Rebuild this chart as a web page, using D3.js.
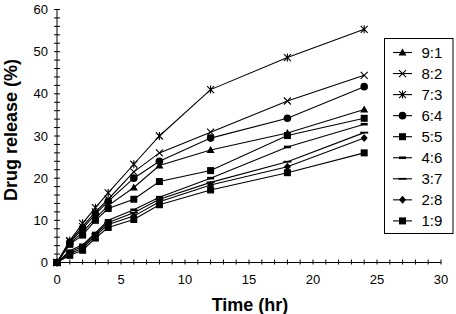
<!DOCTYPE html>
<html>
<head>
    <meta charset="utf-8" />
    <title>Drug release</title>
    <script src="https://cdn.jsdelivr.net/npm/d3@7"></script>
    <style>
        body { margin: 0; background: #fff; }
        svg { font-family: "Liberation Sans", Arial, sans-serif; }
    </style>
</head>
<body>
    <div id="chart_container"></div>

    <script type="text/javascript">
        // data
        var times = [0, 1, 2, 3, 4, 6, 8, 12, 18, 24];
        var r91 = [0, 4.5, 7.2, 10.5, 13.5, 17.8, 23.0, 26.7, 30.7, 36.3];
        var r82 = [0, 5.0, 8.5, 12.0, 15.0, 21.5, 26.0, 30.9, 38.3, 44.4];
        var r73 = [0, 5.2, 9.3, 13.0, 16.5, 23.3, 30.0, 41.0, 48.6, 55.3];
        var r64 = [0, 4.8, 8.0, 11.5, 14.5, 20.0, 24.0, 29.5, 34.2, 41.7];
        var r55 = [0, 4.3, 6.5, 10.0, 12.8, 15.0, 19.2, 21.8, 30.1, 34.2];
        var r46 = [0, 2.8, 4.2, 7.0, 10.0, 12.5, 15.5, 20.0, 27.4, 32.8];
        var r37 = [0, 2.5, 3.8, 6.7, 9.5, 11.8, 15.0, 19.0, 23.9, 30.8];
        var r28 = [0, 2.1, 3.4, 6.3, 9.0, 11.0, 14.4, 18.4, 22.7, 29.5];
        var r19 = [0, 1.7, 2.9, 5.8, 8.3, 10.2, 13.7, 17.2, 21.3, 26.0];
        var seriesNames = ["9:1", "8:2", "7:3", "6:4", "5:5", "4:6", "3:7", "2:8", "1:9"];
        var seriesValues = [r91, r82, r73, r64, r55, r46, r37, r28, r19];
        var markers = ["triangle", "cross", "star", "circle", "square", "dash", "line", "diamond", "square"];

        var xTicks = [0, 5, 10, 15, 20, 25, 30];
        var yTicks = [0, 10, 20, 30, 40, 50, 60];

        var svg = d3.select("#chart_container").append("svg")
            .attr("width", 456)
            .attr("height", 314);

        var x = d3.scaleLinear().domain([0, 30]).range([57, 441]);
        var y = d3.scaleLinear().domain([0, 60]).range([262.5, 9.5]);

        // axes
        var xAxis = svg.append("g").attr("transform", "translate(0,262.5)");
        xAxis.append("line").attr("x1", x(0)).attr("x2", x(30)).attr("stroke", "#000");
        xAxis.selectAll(".minor").data(d3.range(0, 31, 1)).enter().append("line")
            .attr("x1", function (d) { return x(d); })
            .attr("x2", function (d) { return x(d); })
            .attr("y1", -3).attr("y2", 2)
            .attr("stroke", "#000");
        xAxis.selectAll("text").data(xTicks).enter().append("text")
            .attr("x", function (d) { return x(d); })
            .attr("y", 21)
            .attr("text-anchor", "middle")
            .style("font-size", "13px")
            .text(function (d) { return d; });

        var yAxis = svg.append("g").attr("transform", "translate(57,0)");
        yAxis.append("line").attr("y1", y(0)).attr("y2", y(60)).attr("stroke", "#000");
        yAxis.selectAll(".minor").data(d3.range(0, 61, 2)).enter().append("line")
            .attr("y1", function (d) { return y(d); })
            .attr("y2", function (d) { return y(d); })
            .attr("x1", -3).attr("x2", 3)
            .attr("stroke", "#000");
        yAxis.selectAll("text").data(yTicks).enter().append("text")
            .attr("x", -9)
            .attr("y", function (d) { return y(d) + 4.5; })
            .attr("text-anchor", "end")
            .style("font-size", "13px")
            .text(function (d) { return d; });

        // axis titles
        svg.append("text")
            .attr("x", 250).attr("y", 311)
            .attr("text-anchor", "middle")
            .style("font-size", "18px").style("font-weight", "bold")
            .text("Time (hr)");
        svg.append("text")
            .attr("transform", "translate(16.5,130) rotate(-90)")
            .attr("text-anchor", "middle")
            .style("font-size", "18px").style("font-weight", "bold")
            .text("Drug release (%)");

        // marker drawing
        function drawMarker(g, type, cx, cy) {
            if (type === "triangle") {
                g.append("path").attr("d", "M" + cx + "," + (cy - 4) + "L" + (cx + 4) + "," + (cy + 3) + "L" + (cx - 4) + "," + (cy + 3) + "Z").attr("fill", "#000");
            } else if (type === "cross") {
                g.append("path").attr("d", "M" + (cx - 3.5) + "," + (cy - 3.5) + "L" + (cx + 3.5) + "," + (cy + 3.5) + "M" + (cx - 3.5) + "," + (cy + 3.5) + "L" + (cx + 3.5) + "," + (cy - 3.5)).attr("stroke", "#000").attr("stroke-width", 1.1);
            } else if (type === "star") {
                g.append("path").attr("d", "M" + (cx - 3.5) + "," + (cy - 3.5) + "L" + (cx + 3.5) + "," + (cy + 3.5) + "M" + (cx - 3.5) + "," + (cy + 3.5) + "L" + (cx + 3.5) + "," + (cy - 3.5) + "M" + cx + "," + (cy - 4) + "L" + cx + "," + (cy + 4)).attr("stroke", "#000").attr("stroke-width", 1.1);
            } else if (type === "circle") {
                g.append("circle").attr("cx", cx).attr("cy", cy).attr("r", 3.8).attr("fill", "#000");
            } else if (type === "square") {
                g.append("rect").attr("x", cx - 3.5).attr("y", cy - 3.5).attr("width", 7).attr("height", 7).attr("fill", "#000");
            } else if (type === "dash") {
                g.append("rect").attr("x", cx - 3.5).attr("y", cy - 1.3).attr("width", 7).attr("height", 2.6).attr("fill", "#000");
            } else if (type === "line") {
                g.append("rect").attr("x", cx - 4).attr("y", cy - 0.9).attr("width", 8).attr("height", 1.8).attr("fill", "#000");
            } else if (type === "diamond") {
                g.append("path").attr("d", "M" + cx + "," + (cy - 4) + "L" + (cx + 3.5) + "," + cy + "L" + cx + "," + (cy + 4) + "L" + (cx - 3.5) + "," + cy + "Z").attr("fill", "#000");
            }
        }

        var line = d3.line()
            .x(function (d, i) { return x(times[i]); })
            .y(function (d) { return y(d); });

        // series
        seriesValues.forEach(function (vals, k) {
            var g = svg.append("g");
            g.append("path").datum(vals)
                .attr("d", line)
                .attr("fill", "none")
                .attr("stroke", "#000")
                .attr("stroke-width", 1.1);
            vals.forEach(function (v, i) {
                drawMarker(g, markers[k], x(times[i]), y(v));
            });
        });

        // legend
        var legend = svg.append("g");
        legend.append("rect")
            .attr("x", 384.5).attr("y", 38.5)
            .attr("width", 68.5).attr("height", 195)
            .attr("fill", "#fff").attr("stroke", "#000");
        seriesNames.forEach(function (name, k) {
            var ly = 52.5 + k * 21.05;
            legend.append("line")
                .attr("x1", 393).attr("x2", 412)
                .attr("y1", ly).attr("y2", ly)
                .attr("stroke", "#000").attr("stroke-width", 1.1);
            drawMarker(legend, markers[k], 402.5, ly);
            legend.append("text")
                .attr("x", 421.5).attr("y", ly + 5.3)
                .style("font-size", "15px")
                .text(name);
        });
    </script>
</body>
</html>
